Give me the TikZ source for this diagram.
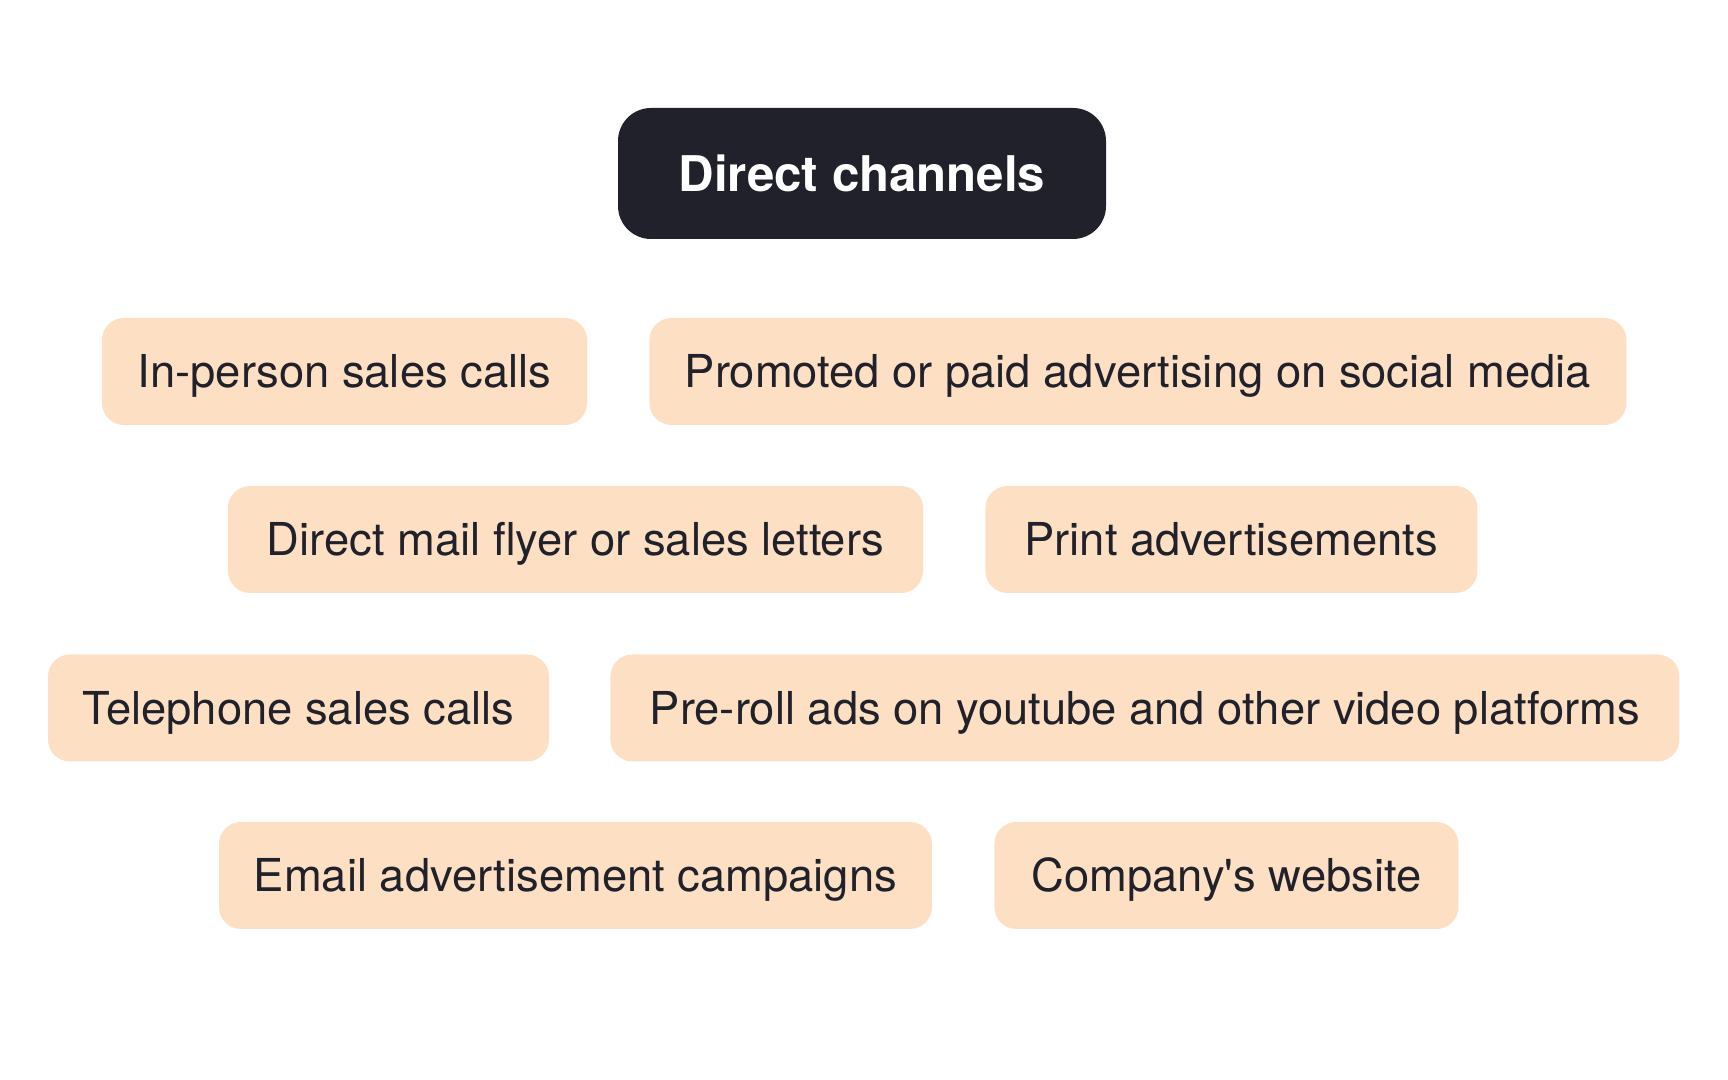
\documentclass[tikz,border=0pt]{standalone}
\usepackage{fontspec}
\setmainfont{TeX Gyre Heros}
\usetikzlibrary{positioning}
\definecolor{inkdark}{HTML}{20212A}
\definecolor{peach}{HTML}{FDDFC3}

\begin{document}
\begin{tikzpicture}[
  chip/.style={fill=peach, text=inkdark, rounded corners=2.2mm, minimum height=1.07cm,
    inner sep=0pt, text height=9.3pt, text depth=0pt, font=\fontsize{12.9}{15}\selectfont},
  head/.style={fill=inkdark, text=white, rounded corners=3.3mm, minimum width=4.88cm,
    minimum height=1.31cm, inner sep=0pt, text height=10.1pt, text depth=0pt,
    font=\fontsize{14}{17}\selectfont\bfseries}
]
\useasboundingbox (0,0) rectangle (17.28,10.8);
\node[head] (head) at (8.62,9.065) {Direct channels};
% row 1
\node[chip,minimum width=4.85cm] (inperson) at (3.445,7.085) {In-person sales calls};
\node[chip,minimum width=9.77cm,right=0.61cm of inperson] (social) {Promoted or paid advertising on social media};
% row 2
\node[chip,minimum width=6.95cm] (mail) at (5.755,5.405) {Direct mail flyer or sales letters};
\node[chip,minimum width=4.92cm,right=0.61cm of mail] (print) {Print advertisements};
% row 3
\node[chip,minimum width=5.01cm] (phone) at (2.985,3.72) {Telephone sales calls};
\node[chip,minimum width=10.69cm,right=0.6cm of phone] (preroll) {Pre-roll ads on youtube and other video platforms};
% row 4
\node[chip,minimum width=7.13cm] (email) at (5.755,2.045) {Email advertisement campaigns};
\node[chip,minimum width=4.64cm,right=0.61cm of email] (website) {Company\textquotesingle s website};
\end{tikzpicture}
\end{document}
